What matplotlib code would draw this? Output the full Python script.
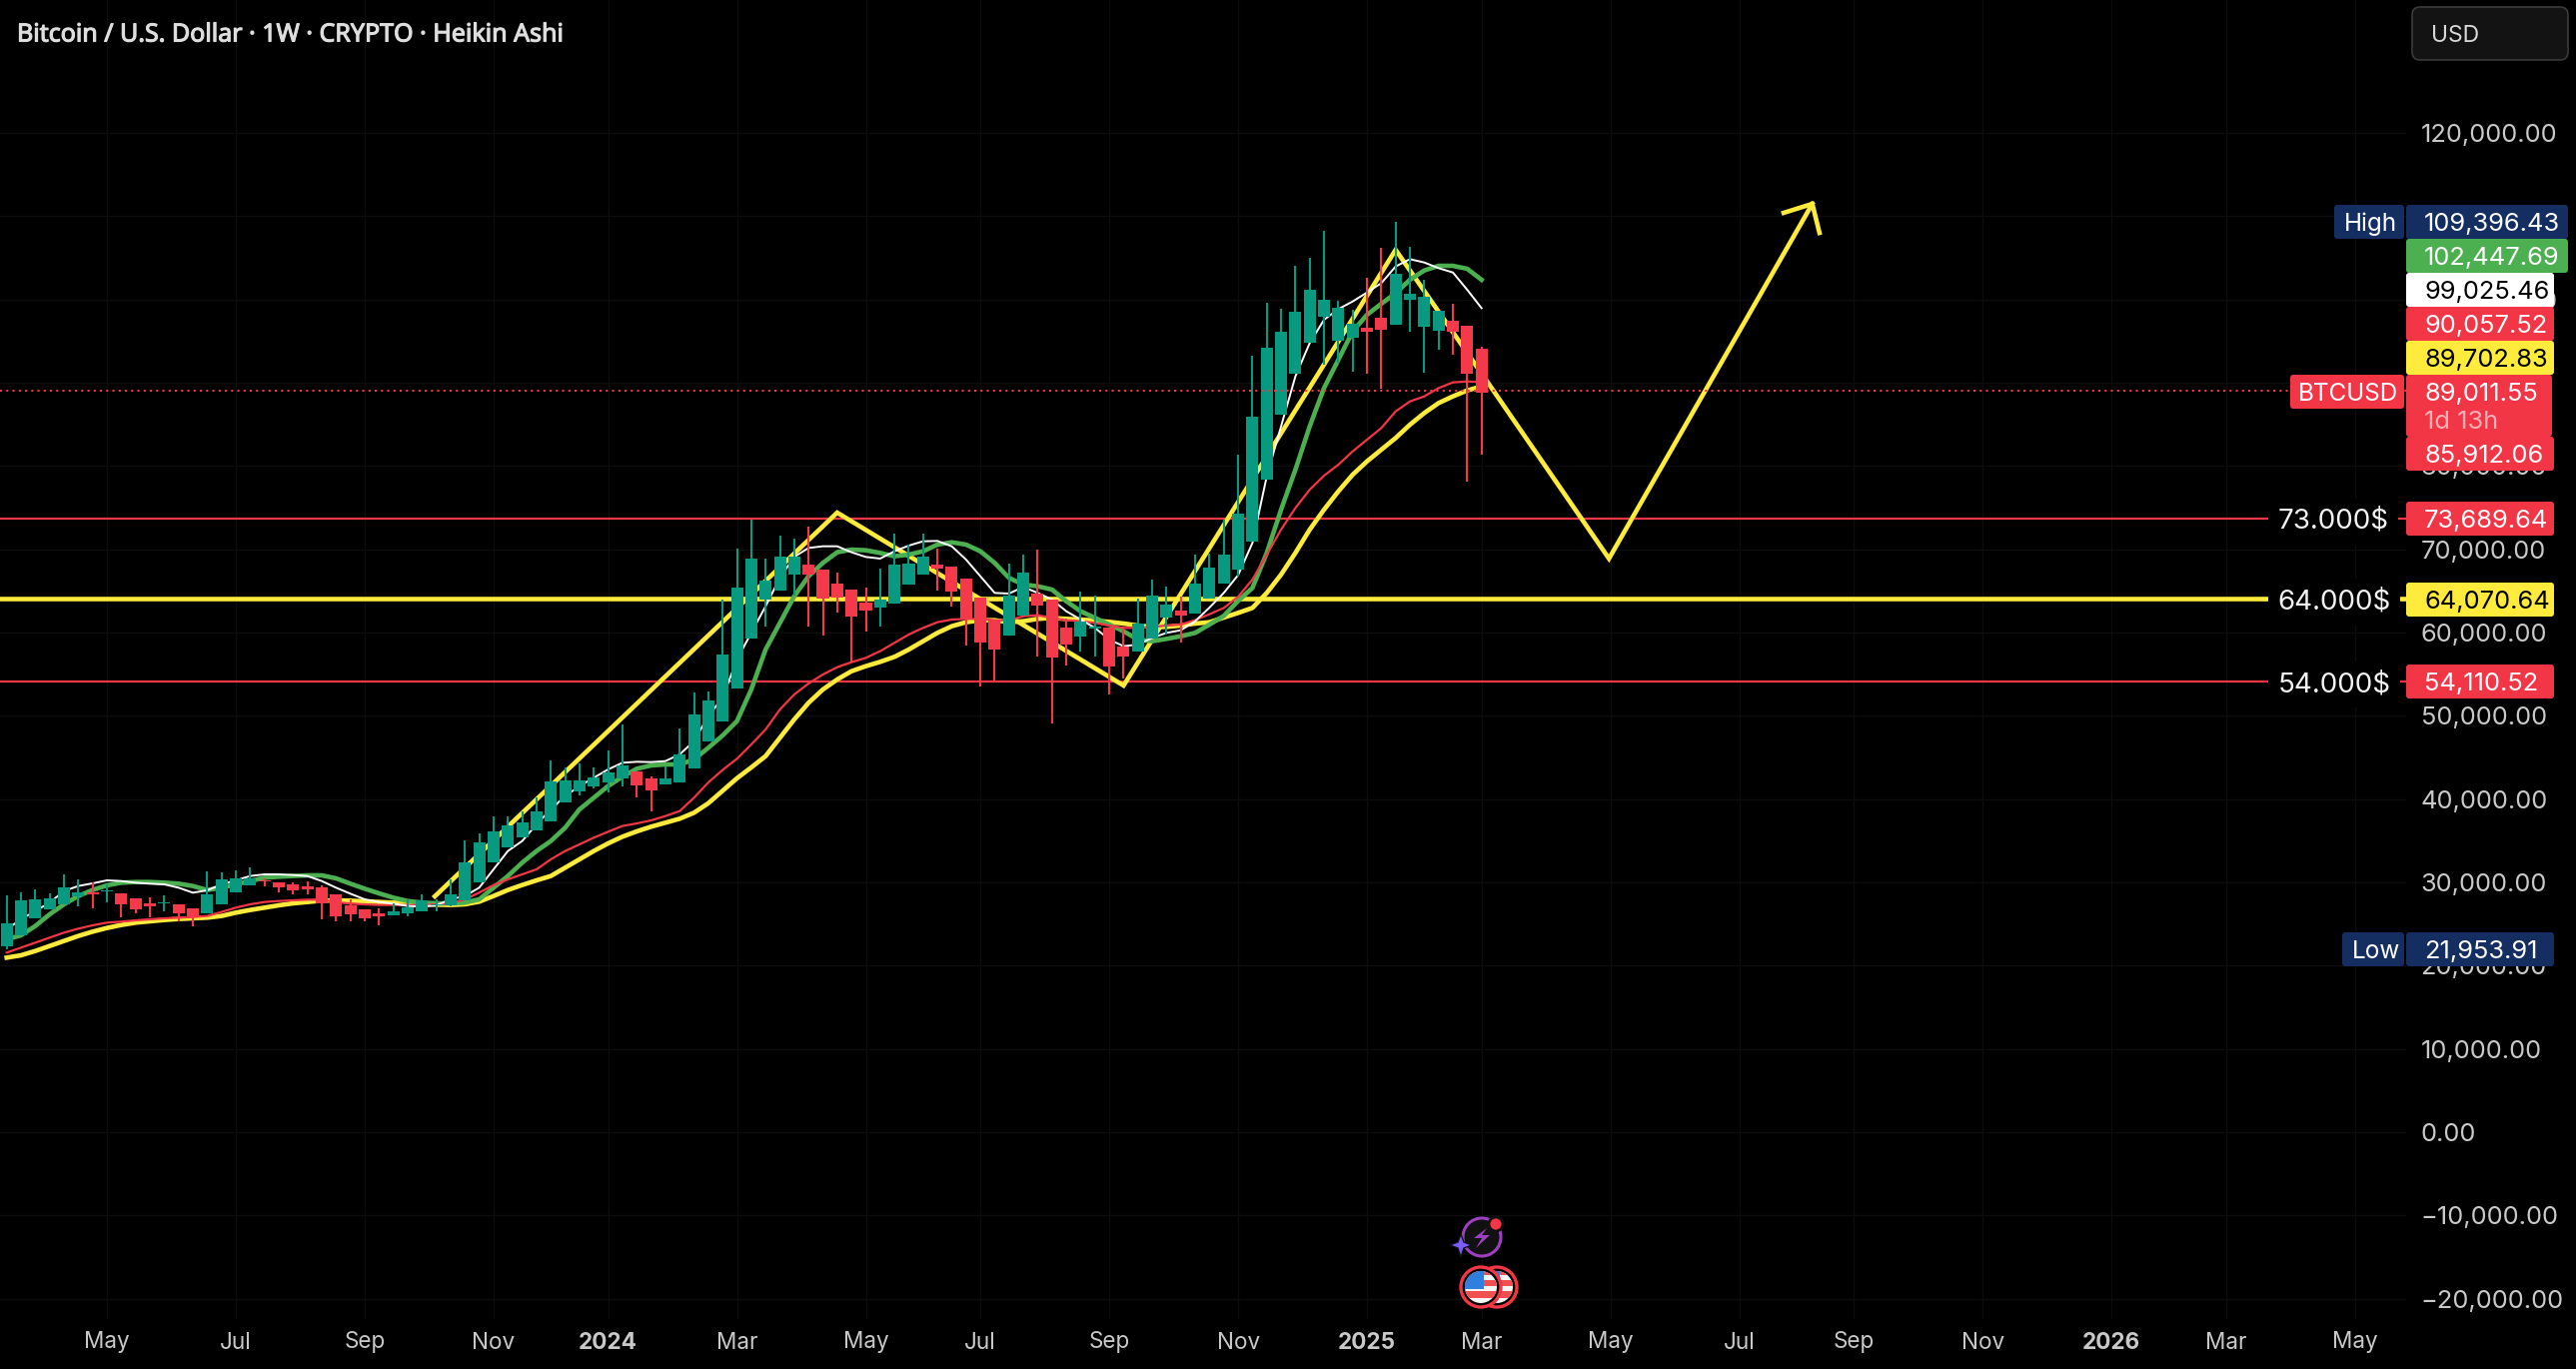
import matplotlib
matplotlib.use('Agg')
import matplotlib.pyplot as plt
import matplotlib.patheffects as pe
from matplotlib.patches import FancyBboxPatch, Circle, Polygon, Rectangle

W = 2578
H = 1370
PX_PER_WEEK = 14.33
FIRST_PX = 6.7

################### candles, one per week ##############################
body_top = [25080,27840,27960,28080,29400,28800,28800,29000,28680,28080,27480,27600,27360,26880,28560,30360,30480,30480,30240,30000,
            29760,29480,29400,28560,27240,26760,26280,26520,27000,27840,27400,28560,32400,34800,36120,36840,37200,38520,42120,42240,
            42240,42600,43200,44040,43320,42480,42480,45360,50160,51840,57360,65400,68880,66240,69120,69120,68160,67560,65880,65160,
            63600,63960,68160,68280,69120,68160,67920,66480,64200,61560,64440,67200,64680,63960,60600,61320,60760,60600,58320,61080,
            64440,63360,62640,65880,67800,69360,74280,85920,94200,96120,98520,101160,99960,99000,97080,96600,97800,103080,100680,100320,
            98640,97440,96840,94080]
body_bot = [22360,23640,25680,26760,27360,28320,28560,28880,27360,26760,27120,27480,26280,25800,26280,27360,28800,29640,30080,29400,
            29040,29160,27480,25920,26160,25680,25960,26040,26280,26520,27280,27240,27840,30000,32400,34200,35400,36240,37320,39600,
            40920,41520,42000,42480,41640,41040,41760,42000,43680,46920,49320,53280,59280,63960,65040,66960,66960,64080,64200,61920,
            62640,63000,63480,65760,66960,67680,64920,61680,58800,57960,59640,62040,63240,57000,58560,59520,60440,55920,57120,57720,
            59280,61800,62040,62280,64080,65880,67560,70920,78360,86160,91080,94800,97920,95040,95400,96120,96360,96960,99960,96720,
            96240,96120,91080,88800]
wick_top = [28440,28800,29160,28680,30960,30360,30000,29760,28680,28080,28200,28440,27360,26880,31320,31200,31440,31800,30480,30000,
            30000,30120,29640,28560,27960,26760,26880,27480,27960,28560,27960,30360,35040,35880,37920,37920,38520,40200,44640,43800,
            44280,43800,45840,48960,43320,42720,43920,48480,52800,52920,63960,70080,73560,68880,71640,71280,72720,67560,67200,65160,
            65400,67680,71880,70560,71880,70080,67920,66480,64200,61560,68280,69360,69960,63960,61680,64920,64440,60600,60720,64080,
            66360,65520,64320,69360,69480,73560,81360,93240,99600,98880,104040,105000,108240,99840,98760,102600,106200,109320,106320,102360,
            98640,99480,96840,94320]
wick_bot = [21960,23640,25680,26760,27360,27120,26880,27600,25800,26280,25800,26520,25320,24720,26280,27360,28800,29640,29520,28800,
            28560,28560,25560,25320,25320,25320,24840,26040,25920,26520,26520,27120,27840,30000,32400,34200,35400,36240,37320,39600,
            40440,41280,40800,41520,40200,38520,41760,42000,43680,46920,49320,53280,59280,60720,65040,64440,60720,59640,62400,56520,
            60120,60720,63480,65760,66960,65040,63120,58440,53520,54240,59640,62040,57120,49080,56040,57720,57120,52560,54480,57720,
            59280,59760,58800,62280,64080,65880,66720,70920,78360,86160,91080,94800,92160,92400,91320,91080,89280,96960,96120,91200,
            93960,93360,78120,81360]
candle_dir = "GGGGGGRGRRRGRRGGGGRRRRRRRRRGGGGGGGGGGGGGGGGGRRGGGGGGGGGGRRRRRGGGGRRRRRGGRRRGGRRGGGRGGGGGGGGGGGGRRGGGGRRRRR"
candle_dir = list(candle_dir)

################### moving averages, one value per week ##############################
ma_white = [24360,25560,26560,27560,28960,29560,29880,30240,30160,29960,29840,29760,29360,28760,29040,29760,30240,30760,30960,30960,
            30880,30760,30160,29360,28640,27960,27640,27440,27160,27080,27240,27960,28360,29360,31560,33760,34960,36960,38760,40360,
            41560,42560,43560,44360,44480,44440,44560,45360,46960,49960,52160,56760,59960,63160,66560,69080,70160,70360,70360,69640,
            69080,68880,69760,70440,70960,71000,70360,68760,66760,64760,64680,65480,64760,63960,62560,61560,60560,59160,58360,58560,
            59360,59960,60280,61360,63000,64760,66900,70760,78760,84760,90760,94760,97560,98840,99760,100840,101960,103960,104840,104440,
            103760,103240,101160,98960]
ma_green = [23160,23640,24760,26160,27360,28360,29080,29640,29960,30040,30040,29960,29840,29560,29080,29360,29760,30160,30560,30680,
            30760,30840,30840,30480,29840,29240,28680,28160,27760,27560,27480,27480,27560,27960,29360,30760,32360,33760,34960,36560,
            38760,40160,41560,42680,43640,44040,44160,44160,44760,46160,47640,49360,53160,57960,61160,64360,66760,68360,69640,69960,
            69880,69560,69160,69360,69760,70560,70840,70560,69760,68360,66560,65760,65560,65160,63760,62560,61760,60960,60160,59160,
            58960,59240,59560,59960,60960,62000,63800,65360,69560,74760,79560,84760,89360,92760,96160,98160,99480,100760,102360,103480,
            104040,104040,103680,102360]
ma_red = [21560,22160,22760,23360,23960,24440,24840,25160,25280,25440,25560,25680,25760,25840,25960,26440,26960,27360,27640,27760,
          27840,27920,27920,27640,27440,27360,27280,27280,27280,27280,27360,27480,27960,28760,29680,30360,30960,31560,32760,33760,
          34560,35360,36080,36760,37080,37440,37960,38560,40160,42000,43500,44840,46560,48360,50760,52560,53880,54960,55840,56440,
          56960,57760,58760,59760,60560,61240,61560,61640,61640,61480,61480,61960,62080,61760,61480,61360,61160,60840,60560,60560,
          60680,60840,60960,61500,62200,62960,64300,66360,69360,72360,74960,77160,78840,80160,81760,83160,84560,86560,87760,88360,
          89360,90040,90160,90080]
ma_yellow = [20960,21240,21760,22360,22960,23560,24080,24520,24880,25160,25320,25480,25600,25680,25760,25960,26360,26680,26960,27240,
             27480,27640,27800,27840,27800,27720,27640,27560,27480,27400,27320,27280,27360,27680,28360,29080,29680,30240,30760,31760,
             32760,33760,34680,35480,36120,36680,37160,37640,38360,39500,41000,42500,43800,45160,47360,49560,51560,53160,54360,55360,
             55960,56480,57080,57960,58960,59960,60760,61240,61480,61480,61240,61360,61640,61760,61640,61560,61440,61280,61080,60840,
             60680,60680,60840,61080,61240,61800,62360,62960,64760,66960,69560,72360,74760,76960,78960,80560,81960,83360,84960,86360,
             87560,88360,89080,89560]

################### drawn lines and levels ##############################
path_weeks = [29.9, 58.0, 78.0, 97.0, 103.4, 111.9, 126.1]
path_prices = [28320, 74400, 53640, 105960, 90120, 68880, 111480]
arrow_weeks = [124.1, 126.1, 126.6]
arrow_prices = [110400, 111480, 108000]

levels = [73689.64, 64070.64, 54110.52]
level_colors = ['#f23645', '#ffeb3b', '#f23645']
level_widths = [1.6, 3.3, 1.6]
level_texts = ['73.000$', '64.000$', '54.000$']
last_price = 89011.55

price_ticks = list(range(-20000, 130000, 10000))
month_weeks = [7, 16, 25, 34, 42, 51, 60, 68, 77, 86, 95, 103, 112, 121, 129, 138, 147, 155, 164]
month_labels = ['May', 'Jul', 'Sep', 'Nov', '2024', 'Mar', 'May', 'Jul', 'Sep', 'Nov', '2025', 'Mar', 'May', 'Jul', 'Sep', 'Nov', '2026', 'Mar', 'May']

tag_texts = ['109,396.43', '102,447.69', '99,025.46', '90,057.52', '89,702.83', '89,011.55', '85,912.06', '73,689.64', '64,070.64', '54,110.52', '21,953.91']
tag_colors = ['#142e61', '#4caf50', '#ffffff', '#f23645', '#ffeb3b', '#f23645', '#f23645', '#f23645', '#ffeb3b', '#f23645', '#142e61']
tag_text_colors = ['white', 'white', 'black', 'white', 'black', 'white', 'white', 'white', 'black', 'white', 'white']
tag_centers = [222, 256, 290, 324, 358, 392, 454, 519, 600, 682, 950]

plt.rcParams['font.family'] = ['Inter', 'DejaVu Sans']
fig = plt.figure(figsize=(W / 100, H / 100), dpi=100, facecolor='black')

# main chart, stops where the price scale starts
right_px = 2408
bottom_px = 1320
ax = fig.add_axes([0, 1 - bottom_px / H, right_px / W, bottom_px / H], facecolor='black')
ax.set_xlim(-FIRST_PX / PX_PER_WEEK, (right_px - FIRST_PX) / PX_PER_WEEK)
ax.set_ylim((1133 - bottom_px) * 120, 1133 * 120)
for s in ax.spines.values():
    s.set_visible(False)

ax.yaxis.tick_right()
ax.set_yticks(price_ticks)
ylabels = []
for p in price_ticks:
    ylabels.append(f'{p:,.2f}'.replace('-', '\u2212'))
ax.set_yticklabels(ylabels)
ax.set_xticks(month_weeks)
ax.set_xticklabels(month_labels)
ax.tick_params(axis='y', length=0, pad=10.5, labelsize=18.3, labelcolor='#c9c9c9')
ax.tick_params(axis='x', length=0, pad=9, labelsize=16.2, labelcolor='#c9c9c9')
for t in ax.get_xticklabels():
    if t.get_text().startswith('20'):
        t.set_fontweight('bold')
ax.grid(True, color='#0d0d0d', lw=1)
ax.set_axisbelow(True)

for i in range(len(levels)):
    ax.axhline(levels[i], color=level_colors[i], lw=level_widths[i], zorder=2)
    ax.text(158.6, levels[i], level_texts[i], color='#f2f2f2', fontsize=20, va='center_baseline', ha='left', zorder=3,
            bbox=dict(facecolor='black', edgecolor='none', pad=7))

weeks = list(range(len(body_top)))
ax.plot(path_weeks, path_prices, color='#ffeb3b', lw=3.3, solid_joinstyle='miter', zorder=4)
ax.plot(arrow_weeks, arrow_prices, color='#ffeb3b', lw=3.3, solid_joinstyle='miter', zorder=4)
ax.plot(weeks, ma_yellow, color='#ffeb3b', lw=3.3, zorder=5)
ax.plot(weeks, ma_red, color='#f23645', lw=1.6, zorder=6)
ax.plot(weeks, ma_green, color='#4caf50', lw=3.3, zorder=5)
ax.plot(weeks, ma_white, color='#ffffff', lw=1.4, zorder=6)

for i in weeks:
    c = '#089981' if candle_dir[i] == 'G' else '#f4394a'
    ax.vlines(i, wick_bot[i], wick_top[i], color=c, lw=1.5, zorder=7)
ccolors = ['#089981' if d == 'G' else '#f4394a' for d in candle_dir]
heights = [body_top[i] - body_bot[i] for i in weeks]
ax.bar(weeks, heights, bottom=body_bot, width=0.84, color=ccolors, zorder=8)

ax.axhline(last_price, color='#f23645', lw=1.5, ls=(0, (1, 2)), zorder=9)

# overlay in pixels for the tags, title and small icons
ov = fig.add_axes([0, 0, 1, 1], facecolor='none')
ov.set_xlim(0, W)
ov.set_ylim(H, 0)
ov.axis('off')


def tag(x0, x1, yc, color, h=34):
    ov.add_patch(FancyBboxPatch((x0 + 2, yc - h / 2 + 2), x1 - x0 - 4, h - 4, boxstyle='round,pad=2,rounding_size=3',
                                facecolor=color, edgecolor='none', zorder=2))


for i in range(len(tag_texts)):
    x1 = 2570 if len(tag_texts[i]) > 9 else 2556
    if i == 5:
        continue
    tag(2408, x1, tag_centers[i], tag_colors[i])
    ov.text(2426, tag_centers[i], tag_texts[i], color=tag_text_colors[i], fontsize=18.3, va='center_baseline', ha='left', zorder=3)

# the last price tag is taller, it carries the countdown
ov.add_patch(FancyBboxPatch((2410, 377), 142, 58, boxstyle='round,pad=2,rounding_size=3', facecolor='#f23645', edgecolor='none', zorder=2))
ov.text(2426, 392, '89,011.55', color='white', fontsize=18.3, va='center_baseline', ha='left', zorder=3)
ov.text(2426, 420, '1d 13h', color='#fbb0b6', fontsize=18.3, va='center_baseline', ha='left', zorder=3)

tag(2336, 2406, 222, '#142e61')
ov.text(2346, 222, 'High', color='white', fontsize=17.5, va='center_baseline', ha='left', zorder=3)
tag(2344, 2406, 950, '#142e61')
ov.text(2354, 950, 'Low', color='white', fontsize=17.5, va='center_baseline', ha='left', zorder=3)
tag(2292, 2406, 392, '#f23645')
ov.text(2300, 392, 'BTCUSD', color='white', fontsize=17.5, va='center_baseline', ha='left', zorder=3)

ov.add_patch(FancyBboxPatch((2418, 11), 148, 45, boxstyle='round,pad=4,rounding_size=8', facecolor='#131313', edgecolor='#3a3a3a', lw=1.2))
ov.text(2433, 33, 'USD', color='#d8d8d8', fontsize=16.5, va='center_baseline', ha='left')

title = ov.text(17, 32, 'Bitcoin / U.S. Dollar \u00b7 1W \u00b7 CRYPTO \u00b7 Heikin Ashi', color='#dedede', fontsize=18,
                fontfamily='Noto Sans', va='center_baseline', ha='left')
title.set_path_effects([pe.withStroke(linewidth=0.8, foreground='#dedede')])

# news icon
ov.add_patch(Circle((1483, 1238), 19, facecolor='#111111', edgecolor='#9c3fc0', lw=2.2))
ov.add_patch(Polygon([(1488, 1229), (1475, 1239), (1483, 1239), (1477, 1249), (1491, 1236), (1483, 1236)], facecolor='#9c3fc0', edgecolor='none'))
ov.add_patch(Circle((1497, 1225), 7, facecolor='#f23645', edgecolor='#111111', lw=2))
ov.add_patch(Polygon([(1462, 1235), (1465, 1243), (1473, 1246), (1465, 1249), (1462, 1258), (1459, 1249), (1451, 1246), (1459, 1243)],
                     facecolor='#7b5cff', edgecolor='#111111', lw=1))


# flag icons
def flag(cx, cy):
    ov.add_patch(Circle((cx, cy), 20, facecolor='black', edgecolor='#f23645', lw=2.4))
    clip = Circle((cx, cy), 16, transform=ov.transData)
    parts = []
    parts.append(Rectangle((cx - 17, cy - 17), 34, 34, facecolor='#f5f5f5', edgecolor='none'))
    parts.append(Rectangle((cx - 17, cy - 7), 34, 6, facecolor='#f05050', edgecolor='none'))
    parts.append(Rectangle((cx - 17, cy + 4), 34, 7, facecolor='#f05050', edgecolor='none'))
    parts.append(Rectangle((cx - 17, cy - 17), 34, 5, facecolor='#f05050', edgecolor='none'))
    parts.append(Rectangle((cx - 17, cy - 17), 20, 19, facecolor='#2f7fe0', edgecolor='none'))
    for p in parts:
        ov.add_patch(p)
        p.set_clip_path(clip)


flag(1498, 1288)
flag(1482, 1288)

fig.savefig('out.png', dpi=100, facecolor='black')
